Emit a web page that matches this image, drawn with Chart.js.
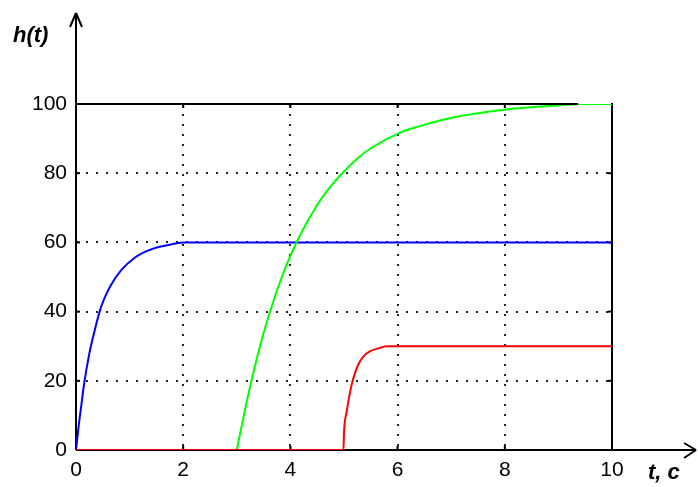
<!DOCTYPE html>
<html>
<head>
<meta charset="utf-8">
<script src="https://cdn.jsdelivr.net/npm/chart.js@4/dist/chart.umd.min.js"></script>
<style>
  body { margin: 0; background: #fff; }
  #wrap { width: 698px; height: 487px; }
</style>
</head>
<body>
<div id="wrap"><canvas id="hChart" width="698" height="487"></canvas></div>
<script>
// --- values ---
const xTicks = [0, 2, 4, 6, 8, 10];
const yTicks = [0, 20, 40, 60, 80, 100];

const tBlue = [0, 0.05, 0.1, 0.15, 0.25, 0.34, 0.45, 0.53, 0.65, 0.84, 1.09, 1.34, 1.58, 1.8, 2.0, 10];
const hBlue = [0, 7, 13, 19, 28, 34, 40.5, 43.8, 47.6, 51.9, 55.5, 57.6, 58.8, 59.5, 60, 60];

const tGreen = [3, 3.2, 3.4, 3.6, 3.93, 4.34, 4.68, 5.24, 5.53, 6.06, 6.42, 6.81, 7.1, 7.41, 7.72, 8.03, 8.53, 9.0, 9.4, 10];
const hGreen = [0, 15, 28, 39, 53.6, 66.7, 74.8, 84.1, 87.5, 91.8, 93.6, 95.3, 96.3, 97.1, 97.8, 98.4, 99.1, 99.6, 100, 100];

const tRed = [0, 4.99, 5.0, 5.05, 5.11, 5.17, 5.26, 5.36, 5.48, 5.67, 5.8, 10];
const hRed = [0, 0, 5, 11, 16.5, 20.5, 24.5, 27, 28.5, 29.5, 30, 30];

const topLineEnd = 9.37; // black line along h = 100 stops here, green continues

const pts = (t, h) => t.map((v, i) => ({ x: v, y: h[i] }));

function line(ctx, x1, y1, x2, y2) {
  ctx.beginPath();
  ctx.moveTo(x1, y1);
  ctx.lineTo(x2, y2);
  ctx.stroke();
}

// axes with arrows, frame, small inner ticks and the two axis names
const axesPlugin = {
  id: "axesPlugin",
  beforeDatasetsDraw(chart) {
    const { ctx, chartArea: a, scales: { x, y } } = chart;
    ctx.save();
    ctx.strokeStyle = "#000";
    ctx.lineWidth = 2;
    // left axis + arrow
    line(ctx, a.left, a.bottom, a.left, 13);
    line(ctx, a.left - 6, 27, a.left, 13);
    line(ctx, a.left + 6, 27, a.left, 13);
    // bottom axis + arrow
    line(ctx, a.left, a.bottom, 696, a.bottom);
    line(ctx, 684, a.bottom - 7, 696, a.bottom);
    line(ctx, 684, a.bottom + 8, 696, a.bottom);
    // right frame
    line(ctx, a.right, a.top - 1, a.right, a.bottom);
    // little inner ticks
    xTicks.slice(1, -1).forEach(v => {
      const px = x.getPixelForValue(v);
      line(ctx, px, a.top, px, a.top + 4);
      line(ctx, px, a.bottom, px, a.bottom - 4);
    });
    yTicks.slice(1, -1).forEach(v => {
      const py = y.getPixelForValue(v);
      line(ctx, a.left, py, a.left + 4, py);
      line(ctx, a.right, py, a.right - 4, py);
    });
    ctx.restore();
  },
  afterDatasetsDraw(chart) {
    const { ctx, chartArea: a, scales: { x } } = chart;
    ctx.save();
    ctx.strokeStyle = "#000";
    ctx.lineWidth = 2;
    line(ctx, a.left, a.top, x.getPixelForValue(topLineEnd), a.top);
    ctx.fillStyle = "#000";
    ctx.font = "italic bold 22px 'Liberation Sans', Arial, sans-serif";
    ctx.textBaseline = "middle";
    ctx.fillText("h(t)", 13, 36);
    ctx.fillText("t, c", 648, 473);
    ctx.restore();
  },
};

const tickFont = { family: "'Liberation Sans', Arial, sans-serif", size: 21 };
const gridColor = (ctx) =>
  ctx.tick && (ctx.index === 0 || ctx.index === 5) ? "rgba(0,0,0,0)" : "#222";

new Chart(document.getElementById("hChart"), {
  type: "scatter",
  data: {
    datasets: [
      {
        label: "red",
        data: pts(tRed, hRed),
        borderColor: "#ff0000",
        borderWidth: 2,
      },
      {
        label: "green",
        data: pts(tGreen, hGreen),
        borderColor: "#00ff00",
        borderWidth: 2,
      },
      {
        label: "blue",
        data: pts(tBlue, hBlue),
        borderColor: "#0000ff",
        borderWidth: 2,
      },
    ],
  },
  options: {
    responsive: false,
    animation: false,
    showLine: true,
    elements: {
      point: { radius: 0, hoverRadius: 0 },
      line: { cubicInterpolationMode: "monotone", fill: false },
    },
    layout: { padding: { left: 0, top: 104, right: 86, bottom: 0 } },
    plugins: { legend: { display: false }, tooltip: { enabled: false } },
    scales: {
      x: {
        type: "linear",
        min: 0,
        max: 10,
        afterBuildTicks: (s) => { s.ticks = xTicks.map(v => ({ value: v })); },
        afterFit: (s) => { s.height = 37; },
        border: { display: false, dash: [2, 8] },
        grid: { color: gridColor, lineWidth: 2, drawTicks: false },
        ticks: { color: "#000", font: tickFont, padding: 8, maxRotation: 0 },
      },
      y: {
        type: "linear",
        min: 0,
        max: 100,
        afterBuildTicks: (s) => { s.ticks = yTicks.map(v => ({ value: v })); },
        afterFit: (s) => { s.width = 76; },
        border: { display: false, dash: [2, 8] },
        grid: { color: gridColor, lineWidth: 2, drawTicks: false },
        ticks: { color: "#000", font: tickFont, padding: 9 },
      },
    },
  },
  plugins: [axesPlugin],
});
</script>
</body>
</html>
